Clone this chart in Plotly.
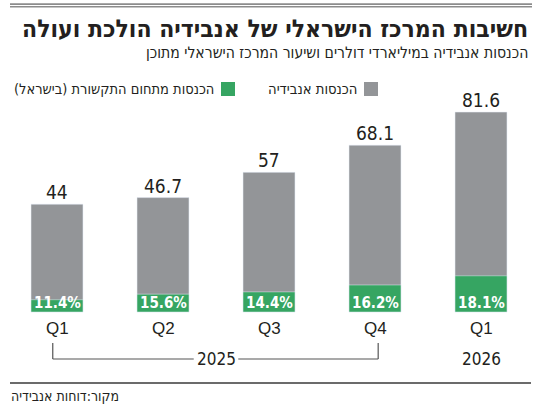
import plotly.graph_objects as go

# data
quarters = ['Q1', 'Q2', 'Q3', 'Q4', 'Q1']
revenue = [44, 46.7, 57, 68.1, 81.6]          # NVIDIA revenue, $bn
israel_share = [11.4, 15.6, 14.4, 16.2, 18.1]  # share of Israeli centre, %
years = ['2025', '2026']

israel_rev = [r * s / 100 for r, s in zip(revenue, israel_share)]
xs = list(range(len(quarters)))

GRAY = '#939598'
GREEN = '#36a562'
INK = '#231f20'
NUM = 'DejaVu Sans Condensed, DejaVu Sans, sans-serif'
HEB = 'DejaVu Sans Condensed, DejaVu Sans, sans-serif'
RLM = '\u200f'

W, H = 550, 409
# plot area covers the whole figure; bars: first centre at 57px, 106px apart,
# baseline at 312px, 2.45px per billion
X0, STEP, BASE, K = 57, 106, 312, 2.45


def px(x):
    return x / W


def py(y):
    return 1 - y / H


fig = go.Figure()
fig.add_trace(go.Bar(x=xs, y=revenue, marker_color=GRAY, width=0.49,
                     hoverinfo='y', name='הכנסות אנבידיה'))
fig.add_trace(go.Bar(x=xs, y=israel_rev, marker_color=GREEN, width=0.49,
                     hoverinfo='y', name='הכנסות מתחום התקשורת (בישראל)'))

ann = []
for x, v, s, q in zip(xs, revenue, israel_share, quarters):
    ann.append(dict(x=x, y=v, xref='x', yref='y', text='%g' % v, showarrow=False,
                    yanchor='bottom', yshift=-1, font=dict(family=NUM, size=19, color=INK)))
    ann.append(dict(x=x, y=0, xref='x', yref='y', text='<b>%.1f%%</b>' % s, showarrow=False,
                    yanchor='bottom', yshift=-2, font=dict(family=NUM, size=15, color='white')))
    ann.append(dict(x=x, y=0, xref='x', yref='y', text=q, showarrow=False,
                    yanchor='middle', yshift=-16,
                    font=dict(family='Liberation Sans, Arial', size=17, color=INK)))

# years
ann.append(dict(x=1.5, y=py(359), xref='x', yref='paper', yanchor='middle', text=years[0],
                showarrow=False, font=dict(family=NUM, size=17, color=INK)))
ann.append(dict(x=4, y=py(359), xref='x', yref='paper', yanchor='middle', text=years[1],
                showarrow=False, font=dict(family=NUM, size=17, color=INK)))

# titles, legend, source
ann += [
    dict(x=px(530), y=py(29), xref='paper', yref='paper', xanchor='right', yanchor='middle',
         text='<b>חשיבות המרכז הישראלי של אנבידיה הולכת ועולה</b>', showarrow=False,
         font=dict(family=HEB, size=24.5, color=INK)),
    dict(x=px(530), y=py(53), xref='paper', yref='paper', xanchor='right', yanchor='middle',
         text='הכנסות אנבידיה במיליארדי דולרים ושיעור המרכז הישראלי מתוכן', showarrow=False,
         font=dict(family=HEB, size=15.6, color=INK)),
    dict(x=px(360), y=py(89), xref='paper', yref='paper', xanchor='right', yanchor='middle',
         text='הכנסות אנבידיה', showarrow=False,
         font=dict(family=HEB, size=14.7, color=INK)),
    dict(x=px(216), y=py(89), xref='paper', yref='paper', xanchor='right', yanchor='middle',
         text=RLM + 'הכנסות מתחום התקשורת (בישראל)' + RLM, showarrow=False,
         font=dict(family=HEB, size=14.5, color=INK)),
    dict(x=px(9), y=py(396), xref='paper', yref='paper', xanchor='left', yanchor='middle',
         text='מקור:דוחות אנבידיה', showarrow=False,
         font=dict(family=HEB, size=14, color=INK)),
]

shapes = [
    # legend swatches
    dict(type='rect', xref='paper', yref='paper', x0=px(364), x1=px(378), y0=py(82), y1=py(96),
         fillcolor=GRAY, line=dict(width=0)),
    dict(type='rect', xref='paper', yref='paper', x0=px(221), x1=px(235), y0=py(82), y1=py(96),
         fillcolor=GREEN, line=dict(width=0)),
    # bottom rule above the source line
    dict(type='line', xref='paper', yref='paper', x0=px(10), x1=px(531),
         y0=py(383), y1=py(383), line=dict(color='#3a3a3a', width=1.4)),
]

# double rule at the top, drawn under the (transparent) plot background
for y0, y1 in [(3.3, 4.9), (5.9, 7.5)]:
    shapes.append(dict(type='rect', xref='paper', yref='paper', layer='below',
                       x0=px(10), x1=px(532), y0=py(y0), y1=py(y1),
                       fillcolor='#8c8c8c', line=dict(width=0)))

# 2025 bracket
bl, br, gap = -0.04, 3.03, 0.21
for seg in [
    (bl, bl, py(343), py(359)),
    (br, br, py(343), py(359)),
    (bl, 1.5 - gap, py(359), py(359)),
    (1.5 + gap, br, py(359), py(359)),
]:
    shapes.append(dict(type='line', xref='x', yref='paper', x0=seg[0], x1=seg[1],
                       y0=seg[2], y1=seg[3], line=dict(color='#555555', width=1.2)))

fig.update_layout(
    width=W, height=H,
    margin=dict(l=0, r=0, t=0, b=0),
    barmode='overlay',
    plot_bgcolor='rgba(0,0,0,0)', paper_bgcolor='white',
    showlegend=False,
    annotations=ann,
    shapes=shapes,
    xaxis=dict(range=[-X0 / STEP, (W - X0) / STEP], showgrid=False, zeroline=False,
               showticklabels=False, showline=False, fixedrange=True),
    yaxis=dict(range=[-(H - BASE) / K, BASE / K], showgrid=False, zeroline=False,
               showticklabels=False, showline=False, fixedrange=True),
)

fig.write_html("out.html", config={'displayModeBar': False},
               post_script="document.body.style.margin='0';")
